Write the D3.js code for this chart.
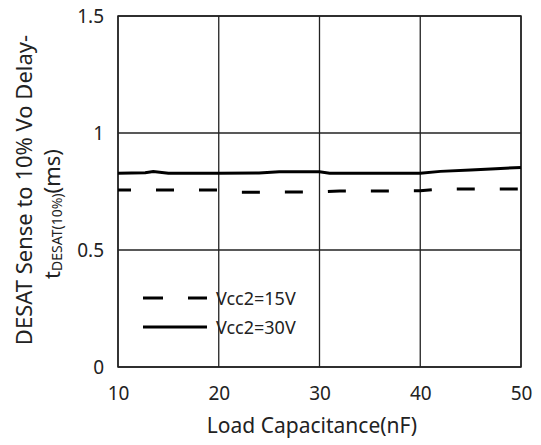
<!DOCTYPE html>
<html>
<head>
<meta charset="utf-8">
<script src="https://cdn.jsdelivr.net/npm/d3@7"></script>
<style>
  body { margin: 0; background: #fff; }
  text { font-family: "Noto Sans", "Open Sans", sans-serif; fill: #222; }
</style>
</head>
<body>
<svg id="chart" width="541" height="445"></svg>
<script>
// data
const capacitance = [10, 12.7, 13.5, 15, 20, 24, 26, 30, 31, 40, 42, 45, 47.5, 50];
const delay30V = [0.828, 0.830, 0.835, 0.828, 0.828, 0.829, 0.834, 0.834, 0.828, 0.828, 0.836, 0.842, 0.847, 0.853];

const capacitance15 = [10, 20, 22, 30, 32, 40, 42, 50];
const delay15V = [0.756, 0.756, 0.747, 0.748, 0.752, 0.753, 0.761, 0.761];

const xTicks = [10, 20, 30, 40, 50];
const yTicks = [0, 0.5, 1, 1.5];
const yTickLabels = ['0', '0.5', '1', '1.5'];

const margin = { left: 118, right: 20, top: 16, bottom: 78 };

const svg = d3.select('#chart');
const W = +svg.attr('width');
const H = +svg.attr('height');
const innerW = W - margin.left - margin.right;
const innerH = H - margin.top - margin.bottom;

const x = d3.scaleLinear().domain([10, 50]).range([0, innerW]);
const y = d3.scaleLinear().domain([0, 1.5]).range([innerH, 0]);

const g = svg.append('g')
  .attr('transform', `translate(${margin.left}, ${margin.top})`);

// grid
g.append('g')
  .selectAll('line.vgrid')
  .data(xTicks)
  .enter().append('line')
    .attr('x1', d => x(d)).attr('x2', d => x(d))
    .attr('y1', 0).attr('y2', innerH)
    .attr('stroke', '#222').attr('stroke-width', 1.3);

g.append('g')
  .selectAll('line.hgrid')
  .data(yTicks)
  .enter().append('line')
    .attr('x1', 0).attr('x2', innerW)
    .attr('y1', d => y(d)).attr('y2', d => y(d))
    .attr('stroke', '#222').attr('stroke-width', 1.3);

g.append('rect')
  .attr('width', innerW).attr('height', innerH)
  .attr('fill', 'none').attr('stroke', '#222').attr('stroke-width', 1.5);

// axes (text only)
const xAxis = d3.axisBottom(x).tickValues(xTicks).tickSize(0).tickPadding(20);
g.append('g')
  .attr('transform', `translate(0, ${innerH})`)
  .call(xAxis)
  .call(s => s.select('.domain').remove())
  .selectAll('text')
    .style('font-size', '19px')
    .style('font-family', '"Noto Sans", sans-serif')
    .attr('fill', '#333');

const yAxis = d3.axisLeft(y).tickValues(yTicks).tickSize(0).tickPadding(14)
  .tickFormat((d, i) => yTickLabels[i]);
g.append('g')
  .call(yAxis)
  .call(s => s.select('.domain').remove())
  .selectAll('text')
    .style('font-size', '19px')
    .style('font-family', '"Noto Sans", sans-serif')
    .attr('fill', '#333');

// series
const line = d3.line().x(d => x(d[0])).y(d => y(d[1]));

g.append('path')
  .datum(d3.zip(capacitance15, delay15V))
  .attr('d', line)
  .attr('fill', 'none')
  .attr('stroke', '#000')
  .attr('stroke-width', 3)
  .attr('stroke-dasharray', '18,25')
  .attr('stroke-dashoffset', 5);

g.append('path')
  .datum(d3.zip(capacitance, delay30V))
  .attr('d', line)
  .attr('fill', 'none')
  .attr('stroke', '#000')
  .attr('stroke-width', 3);

// legend
const legend = g.append('g').attr('transform', `translate(25, ${y(0.295)})`);
const legendItems = [
  { label: 'Vcc2=15V', dash: '20,25' },
  { label: 'Vcc2=30V', dash: null },
];
legend.selectAll('g.item')
  .data(legendItems)
  .enter().append('g')
    .attr('transform', (d, i) => `translate(0, ${i * 29})`)
    .each(function(d) {
      const item = d3.select(this);
      item.append('line')
        .attr('x1', 0).attr('x2', 64)
        .attr('stroke', '#000').attr('stroke-width', 3)
        .attr('stroke-dasharray', d.dash);
      item.append('text')
        .attr('x', 73).attr('y', 7)
        .style('font-size', '18px')
        .text(d.label);
    });

// axis titles
svg.append('text')
  .attr('x', 312)
  .attr('y', 433)
  .attr('text-anchor', 'middle')
  .style('font-size', '21px')
  .text('Load Capacitance(nF)');

svg.append('text')
  .attr('transform', 'translate(32, 190) rotate(-90)')
  .attr('text-anchor', 'middle')
  .style('font-size', '22px')
  .text('DESAT Sense to 10% Vo Delay-');

const yTitle2 = svg.append('text')
  .attr('transform', 'translate(60, 214) rotate(-90)')
  .attr('text-anchor', 'middle')
  .style('font-size', '22px');
yTitle2.append('tspan').text('t');
yTitle2.append('tspan').style('font-size', '14px').attr('dy', 2).text('DESAT(10%)');
yTitle2.append('tspan').attr('dy', -2).text('(ms)');
</script>
</body>
</html>
